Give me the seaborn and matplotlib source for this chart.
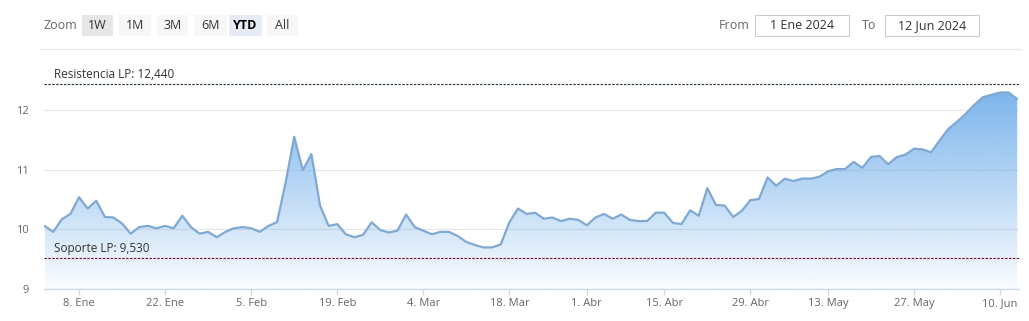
import numpy as np
import pandas as pd
import matplotlib
matplotlib.use("Agg")
import matplotlib.pyplot as plt
import seaborn as sns
from matplotlib.patches import Rectangle
from matplotlib.colors import to_rgb

# ---------------- data ----------------
values = [10.06, 9.96, 10.17, 10.26, 10.54, 10.35, 10.48, 10.21, 10.20, 10.10,
          9.93, 10.04, 10.06, 10.02, 10.06, 10.02, 10.23, 10.04, 9.93, 9.96,
          9.87, 9.96, 10.02, 10.04, 10.02, 9.96, 10.06, 10.12, 10.78, 11.55,
          10.99, 11.26, 10.40, 10.06, 10.09, 9.92, 9.87, 9.91, 10.12, 9.99,
          9.95, 9.98, 10.25, 10.04, 9.98, 9.92, 9.96, 9.96, 9.89, 9.79,
          9.74, 9.70, 9.70, 9.75, 10.12, 10.35, 10.26, 10.28, 10.18, 10.20,
          10.14, 10.18, 10.16, 10.07, 10.20, 10.26, 10.18, 10.25, 10.16, 10.14,
          10.14, 10.28, 10.28, 10.11, 10.09, 10.32, 10.23, 10.69, 10.41, 10.40,
          10.21, 10.31, 10.49, 10.51, 10.87, 10.73, 10.85, 10.81, 10.85, 10.85,
          10.88, 10.97, 11.01, 11.01, 11.13, 11.03, 11.21, 11.23, 11.09, 11.21,
          11.25, 11.35, 11.34, 11.29, 11.49, 11.68, 11.80, 11.93, 12.08, 12.21,
          12.25, 12.29, 12.29, 12.18]
holidays = ["2024-01-01", "2024-03-29", "2024-04-01", "2024-05-01"]
start_date, end_date = "2024-01-01", "2024-06-12"

tick_dates = ["2024-01-08", "2024-01-22", "2024-02-05", "2024-02-19", "2024-03-04",
              "2024-03-18", "2024-04-01", "2024-04-15", "2024-04-29", "2024-05-13",
              "2024-05-27", "2024-06-10"]
tick_labels = ["8. Ene", "22. Ene", "5. Feb", "19. Feb", "4. Mar", "18. Mar",
               "1. Abr", "15. Abr", "29. Abr", "13. May", "27. May", "10. Jun"]
y_ticks = [9, 10, 11, 12]
y_tick_labels = ["9", "10", "11", "12"]

resistencia = 12.44
soporte = 9.53
resistencia_label = "Resistencia LP: 12,440"
soporte_label = "Soporte LP: 9,530"

zoom_buttons = ["1W", "1M", "3M", "6M", "YTD", "All"]
from_text, to_text = "1 Ene 2024", "12 Jun 2024"

# ---------------- build ----------------
dates = pd.bdate_range(start_date, end_date)
dates = dates[~dates.isin(pd.to_datetime(holidays))]
n = min(len(dates), len(values))
df = pd.DataFrame({"idx": np.arange(n), "date": dates[:n], "value": values[:n]})
tick_idx = [int(np.searchsorted(df["date"].values, np.datetime64(d))) for d in tick_dates]

W, H = 1029, 321
sns.set_theme(style="white")
plt.rcParams["font.family"] = ["Open Sans", "DejaVu Sans"]
fig = plt.figure(figsize=(W / 100, H / 100), dpi=100)

def fx(x):
    return x / W

def fy(y):
    return 1 - y / H

left_px, right_px, top_px, bot_px = 44, 1019, 50, 289.3
ax = fig.add_axes([fx(left_px), fy(bot_px), fx(right_px - left_px), (bot_px - top_px) / H])

line_color = "#7fa9d3"
fill_rgb = np.array(to_rgb("#7cb5ec"))

sns.lineplot(data=df, x="idx", y="value", ax=ax, color=line_color, lw=1.6, zorder=3)

poly = ax.fill_between(df["idx"], df["value"], 9, color="none", lw=0)
vmax = df["value"].max()
grad = np.ones((256, 1, 4))
alpha = np.linspace(1.0, 0.04, 256)
grad[:, 0, :3] = fill_rgb
grad[:, 0, 3] = alpha
im = ax.imshow(grad, extent=[df["idx"].min(), df["idx"].max(), 9, vmax],
               aspect="auto", origin="upper", zorder=2, interpolation="bilinear")
im.set_clip_path(poly.get_paths()[0], transform=ax.transData)

ax.set_xlim(-0.07, 113.21)
ax.set_ylim(9, 13)
ax.set_xlabel("")
ax.set_ylabel("")

ax.set_yticks(y_ticks, y_tick_labels)
ax.set_xticks(tick_idx, tick_labels)
ax.grid(axis="y", color="#e6e6e6", lw=0.9)
ax.grid(axis="x", visible=False)
for s in ["top", "right", "left"]:
    ax.spines[s].set_visible(False)
ax.spines["bottom"].set_color("#ccd6eb")
ax.spines["bottom"].set_linewidth(0.9)
ax.tick_params(axis="y", length=0, pad=11, labelsize=8, labelcolor="#666666")
ax.tick_params(axis="x", length=4.5, width=0.9, color="#ccd6eb", pad=1.5,
               labelsize=8, labelcolor="#666666", bottom=True)

# support / resistance lines
ax.axhline(resistencia, color="#203a20", lw=0.8, ls=(0, (2.2, 1.3)), zorder=4)
ax.axhline(soporte, color="#7a0a1a", lw=0.8, ls=(0, (2.2, 1.3)), zorder=4)
ax.text(fx(54 - left_px) / fx(right_px - left_px), resistencia + 0.05, resistencia_label,
        transform=ax.get_yaxis_transform(), fontsize=8.5, color="#333333",
        va="bottom", ha="left", zorder=5)
ax.text(fx(54 - left_px) / fx(right_px - left_px), soporte + 0.05, soporte_label,
        transform=ax.get_yaxis_transform(), fontsize=8.5, color="#333333",
        va="bottom", ha="left", zorder=5)

# ---------------- toolbar ----------------
fig.add_artist(plt.Line2D([fx(40), fx(1022)], [fy(49.3), fy(49.3)], color="#e6e6e6", lw=0.9))
fig.text(fx(43), fy(25.5), "Zoom", fontsize=9, color="#666666", ha="left", va="center")
btn_x = [(82, 113), (119, 151), (157, 188), (194, 227), (229, 262), (267, 298)]
btn_bg = ["#e6e6e6", "#f7f7f7", "#f7f7f7", "#f7f7f7", "#e6ebf5", "#f7f7f7"]
for (x0, x1), label, bg in zip(btn_x, zoom_buttons, btn_bg):
    fig.add_artist(Rectangle((fx(x0), fy(36)), fx(x1 - x0), 21 / H,
                             transform=fig.transFigure, facecolor=bg, edgecolor="none"))
    bold = label == "YTD"
    fig.text(fx((x0 + x1) / 2), fy(25.5), label, fontsize=9,
             color="#000000" if bold else "#333333",
             fontweight="bold" if bold else "normal", ha="center", va="center")

fig.text(fx(719), fy(25.5), "From", fontsize=9, color="#666666", ha="left", va="center")
fig.text(fx(862), fy(25.5), "To", fontsize=9, color="#666666", ha="left", va="center")
for (x0, x1), label in zip([(755, 849), (885, 979)], [from_text, to_text]):
    fig.add_artist(Rectangle((fx(x0), fy(36)), fx(x1 - x0), 21 / H,
                             transform=fig.transFigure, facecolor="white",
                             edgecolor="#cccccc", lw=0.8))
    fig.text(fx((x0 + x1) / 2), fy(25.5), label, fontsize=9, color="#333333",
             ha="center", va="center")

fig.savefig("out.png", dpi=100)
